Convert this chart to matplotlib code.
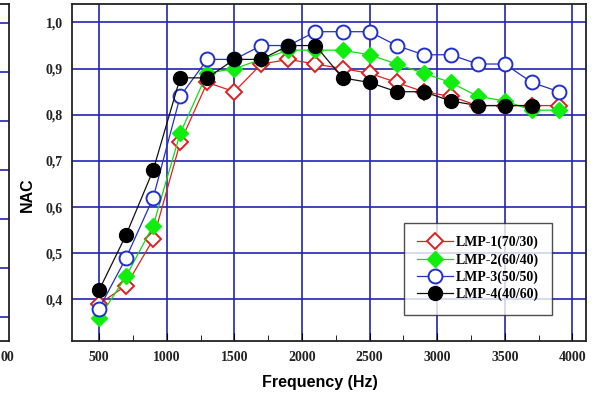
import matplotlib
matplotlib.use("Agg")
import matplotlib.pyplot as plt
from matplotlib.ticker import FixedLocator, MultipleLocator, FuncFormatter

# Sound absorption (NAC) of the LMP blends versus frequency
freq = [500, 700, 900, 1100, 1300, 1500, 1700, 1900, 2100, 2300, 2500,
        2700, 2900, 3100, 3300, 3500, 3700, 3900]
lmp1 = [0.39, 0.43, 0.53, 0.74, 0.87, 0.85, 0.91, 0.92, 0.91, 0.90, 0.89,
        0.87, 0.85, 0.84, 0.82, 0.82, 0.82, 0.82]
lmp2 = [0.36, 0.45, 0.56, 0.76, 0.89, 0.90, 0.92, 0.94, 0.94, 0.94, 0.93,
        0.91, 0.89, 0.87, 0.84, 0.83, 0.81, 0.81]
lmp3 = [0.38, 0.49, 0.62, 0.84, 0.92, 0.92, 0.95, 0.95, 0.98, 0.98, 0.98,
        0.95, 0.93, 0.93, 0.91, 0.91, 0.87, 0.85]
freq4 = freq[:-1]
lmp4 = [0.42, 0.54, 0.68, 0.88, 0.88, 0.92, 0.92, 0.95, 0.95, 0.88, 0.87,
        0.85, 0.85, 0.83, 0.82, 0.82, 0.82]

labels = ["LMP-1(70/30)", "LMP-2(60/40)", "LMP-3(50/50)", "LMP-4(40/60)"]
x_ticks = [500, 1000, 1500, 2000, 2500, 3000, 3500, 4000]
y_ticks = [0.4, 0.5, 0.6, 0.7, 0.8, 0.9, 1.0]

# neighbouring panel (only its right edge is visible)
side_grid = [0.5, 1.5, 2.5, 3.5, 4.5, 5.5, 6.5]
side_tick = [4000]
side_tick_label = ["00"]

grid_c = "#2424b2"
serif = ["Liberation Serif", "DejaVu Serif"]
sans = ["Liberation Sans", "DejaVu Sans"]
tick_fs = 10

W, H = 596, 398
fig = plt.figure(figsize=(W / 100, H / 100), dpi=100)

def box(l, t, r, b):
    return [l / W, 1 - b / H, (r - l) / W, (b - t) / H]

# right edge of the neighbouring panel
axs = fig.add_axes(box(-110, 4, 9, 341))
axs.set_xlim(3000, 4010)
axs.set_ylim(0, 6.88)
for g in side_grid:
    axs.axhline(g, color=grid_c, lw=1.2, zorder=0)
axs.set_yticks([])
axs.set_xticks(side_tick)
axs.set_xticklabels(side_tick_label, fontfamily=serif, fontweight="bold",
                    fontsize=tick_fs, color="#222222")
axs.tick_params(axis="x", length=0, pad=7)
for s in axs.spines.values():
    s.set_color("#222222")
    s.set_linewidth(1.3)

ax = fig.add_axes(box(72, 4, 586, 341))
ax.set_xlim(300, 4100)
ax.set_ylim(0.31, 1.04)

for v in x_ticks:
    ax.axvline(v, color=grid_c, lw=1.2, zorder=0)
for v in y_ticks:
    ax.axhline(v, color=grid_c, lw=1.2, zorder=0)

ms = 10
ax.plot(freq, lmp1, color="#e02020", lw=0.9, marker="D", ms=ms * 0.78,
        mfc="white", mec="#e02020", mew=1.4, label=labels[0], zorder=3)
ax.plot(freq, lmp2, color="#10dd10", lw=0.9, marker="D", ms=ms * 0.78,
        mfc="#10ee10", mec="#10ee10", mew=1.0, label=labels[1], zorder=4)
ax.plot(freq, lmp3, color="#2030c8", lw=0.9, marker="o", ms=ms,
        mfc="white", mec="#2030c8", mew=1.4, label=labels[2], zorder=5)
ax.plot(freq4, lmp4, color="#111111", lw=0.9, marker="o", ms=ms,
        mfc="black", mec="black", label=labels[3], zorder=6)

ax.xaxis.set_major_locator(FixedLocator(x_ticks))
ax.xaxis.set_minor_locator(MultipleLocator(250))
ax.yaxis.set_major_locator(FixedLocator(y_ticks))
ax.yaxis.set_major_formatter(FuncFormatter(lambda v, p: f"{v:.1f}".replace(".", ",")))
ax.tick_params(axis="both", which="both", direction="in", top=False, right=False)
ax.tick_params(axis="x", which="major", length=6, pad=7)
ax.tick_params(axis="x", which="minor", length=4)
ax.tick_params(axis="y", which="major", length=0, pad=6.5)
for lab in ax.get_xticklabels() + ax.get_yticklabels():
    lab.set_fontfamily(serif)
    lab.set_fontweight("bold")
    lab.set_fontsize(tick_fs)
    lab.set_color("#222222")
for s in ax.spines.values():
    s.set_color("#222222")
    s.set_linewidth(1.3)

fig.text(320 / W, 1 - 383 / H, "Frequency (Hz)", ha="center", va="center",
         fontfamily=sans, fontweight="bold", fontsize=11.5)
fig.text(27 / W, 1 - 195 / H, "NAC", ha="center", va="center", rotation=90,
         fontfamily=sans, fontweight="bold", fontsize=11.5)

leg = ax.legend(loc="upper left", bbox_to_anchor=((404 - 72) / 514, (341 - 222.7) / 337),
                prop={"family": serif, "weight": "bold", "size": 10},
                frameon=True, fancybox=False, edgecolor="#222222",
                handlelength=2.6, handletextpad=0.2, labelspacing=0.28,
                borderpad=0.95, borderaxespad=0)
leg.get_frame().set_linewidth(1.0)
leg.set_zorder(10)

fig.savefig("out.png", dpi=100)
